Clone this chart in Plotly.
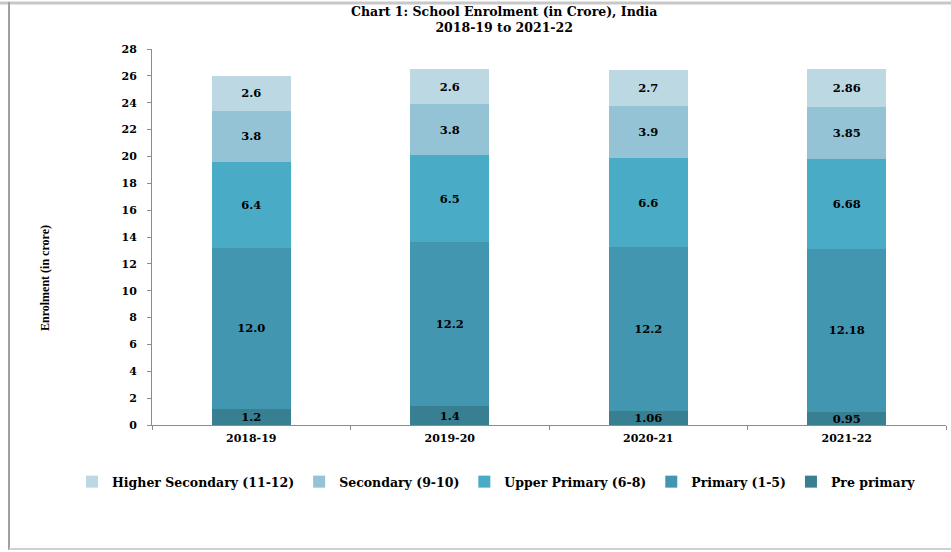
import plotly.graph_objects as go

years = ["2018-19", "2019-20", "2020-21", "2021-22"]
series_names = ["Pre primary", "Primary (1-5)", "Upper Primary (6-8)",
                "Secondary (9-10)", "Higher Secondary (11-12)"]
pre_primary = [1.2, 1.4, 1.06, 0.95]
primary = [12.0, 12.2, 12.2, 12.18]
upper_primary = [6.4, 6.5, 6.6, 6.68]
secondary = [3.8, 3.8, 3.9, 3.85]
higher_secondary = [2.6, 2.6, 2.7, 2.86]
labels_pre = ["1.2", "1.4", "1.06", "0.95"]
labels_pri = ["12.0", "12.2", "12.2", "12.18"]
labels_upr = ["6.4", "6.5", "6.6", "6.68"]
labels_sec = ["3.8", "3.8", "3.9", "3.85"]
labels_hs = ["2.6", "2.6", "2.7", "2.86"]
y_ticks = list(range(0, 29, 2))

colors = ["#387F92", "#4396AF", "#4AABC6", "#93C3D5", "#BCD8E3"]
values = [pre_primary, primary, upper_primary, secondary, higher_secondary]
labels = [labels_pre, labels_pri, labels_upr, labels_sec, labels_hs]

WIDE = "DejaVu Serif"
SERIF = "Liberation Serif"

fig = go.Figure()
for name, vals, txt, col in zip(series_names, values, labels, colors):
    fig.add_trace(go.Bar(
        x=years, y=vals, name=name, text=txt,
        textposition="inside", insidetextanchor="middle",
        textfont=dict(family=WIDE, size=11.5, color="black", weight="bold"),
        marker=dict(color=col, line=dict(width=0)),
        cliponaxis=False,
    ))

W, H = 951, 552
L, R, T, B = 152, 5, 49, 127
pw, ph = W - L - R, H - T - B

def px(x):
    return (x - L) / pw

def py(y):
    return (H - B - y) / ph

fig.update_layout(
    width=W, height=H,
    margin=dict(l=L, r=R, t=T, b=B),
    barmode="stack", bargap=0.6,
    plot_bgcolor="white", paper_bgcolor="white",
    font=dict(family=WIDE, color="black", weight="bold"),
    uniformtext=dict(minsize=11, mode="show"),
    legend=dict(
        orientation="h", xref="paper", yref="paper",
        x=px(72), xanchor="left", y=py(482), yanchor="middle",
        traceorder="reversed",
        font=dict(family=WIDE, size=12.5, color="black", weight="bold"),
        itemwidth=30, tracegroupgap=0,
    ),
    xaxis=dict(
        showline=True, linecolor="#8C8C8C", linewidth=1,
        ticks="outside", ticklen=4, tickcolor="#8C8C8C", tickson="boundaries",
        tickfont=dict(family=WIDE, size=11, color="black", weight="bold"),
        ticklabelstandoff=3,
        showgrid=False,
    ),
    yaxis=dict(
        range=[0, 28], tickvals=y_ticks, showline=True, linecolor="#8C8C8C",
        linewidth=1, ticks="outside", ticklen=4, tickcolor="#8C8C8C",
        tickfont=dict(family=WIDE, size=11, color="black", weight="bold"),
        ticklabelstandoff=8,
        showgrid=False, zeroline=False,
    ),
    annotations=[
        dict(
            text="Chart 1: School Enrolment (in Crore), India<br>2018-19 to 2021-22",
            showarrow=False, xref="paper", yref="paper",
            x=px(504), y=py(20), xanchor="center", yanchor="middle",
            font=dict(family=WIDE, size=12.5, color="black", weight="bold"),
        ),
        dict(
            text="Enrolment (in crore)", textangle=-90, showarrow=False,
            xref="paper", yref="paper", x=px(45), y=py(278),
            xanchor="center", yanchor="middle",
            font=dict(family=SERIF, size=12, color="black", weight="bold"),
        ),
    ],
    shapes=[
        dict(type="line", xref="paper", yref="paper", x0=px(0), x1=px(951),
             y0=py(3), y1=py(3), line=dict(color="#C8C8C8", width=3)),
        dict(type="line", xref="paper", yref="paper", x0=px(9), x1=px(9),
             y0=py(2), y1=py(550), line=dict(color="#A0A0A0", width=2)),
        dict(type="line", xref="paper", yref="paper", x0=px(9), x1=px(951),
             y0=py(549), y1=py(549), line=dict(color="#D0D0D0", width=2)),
    ],
)

fig.write_html("out.html")
